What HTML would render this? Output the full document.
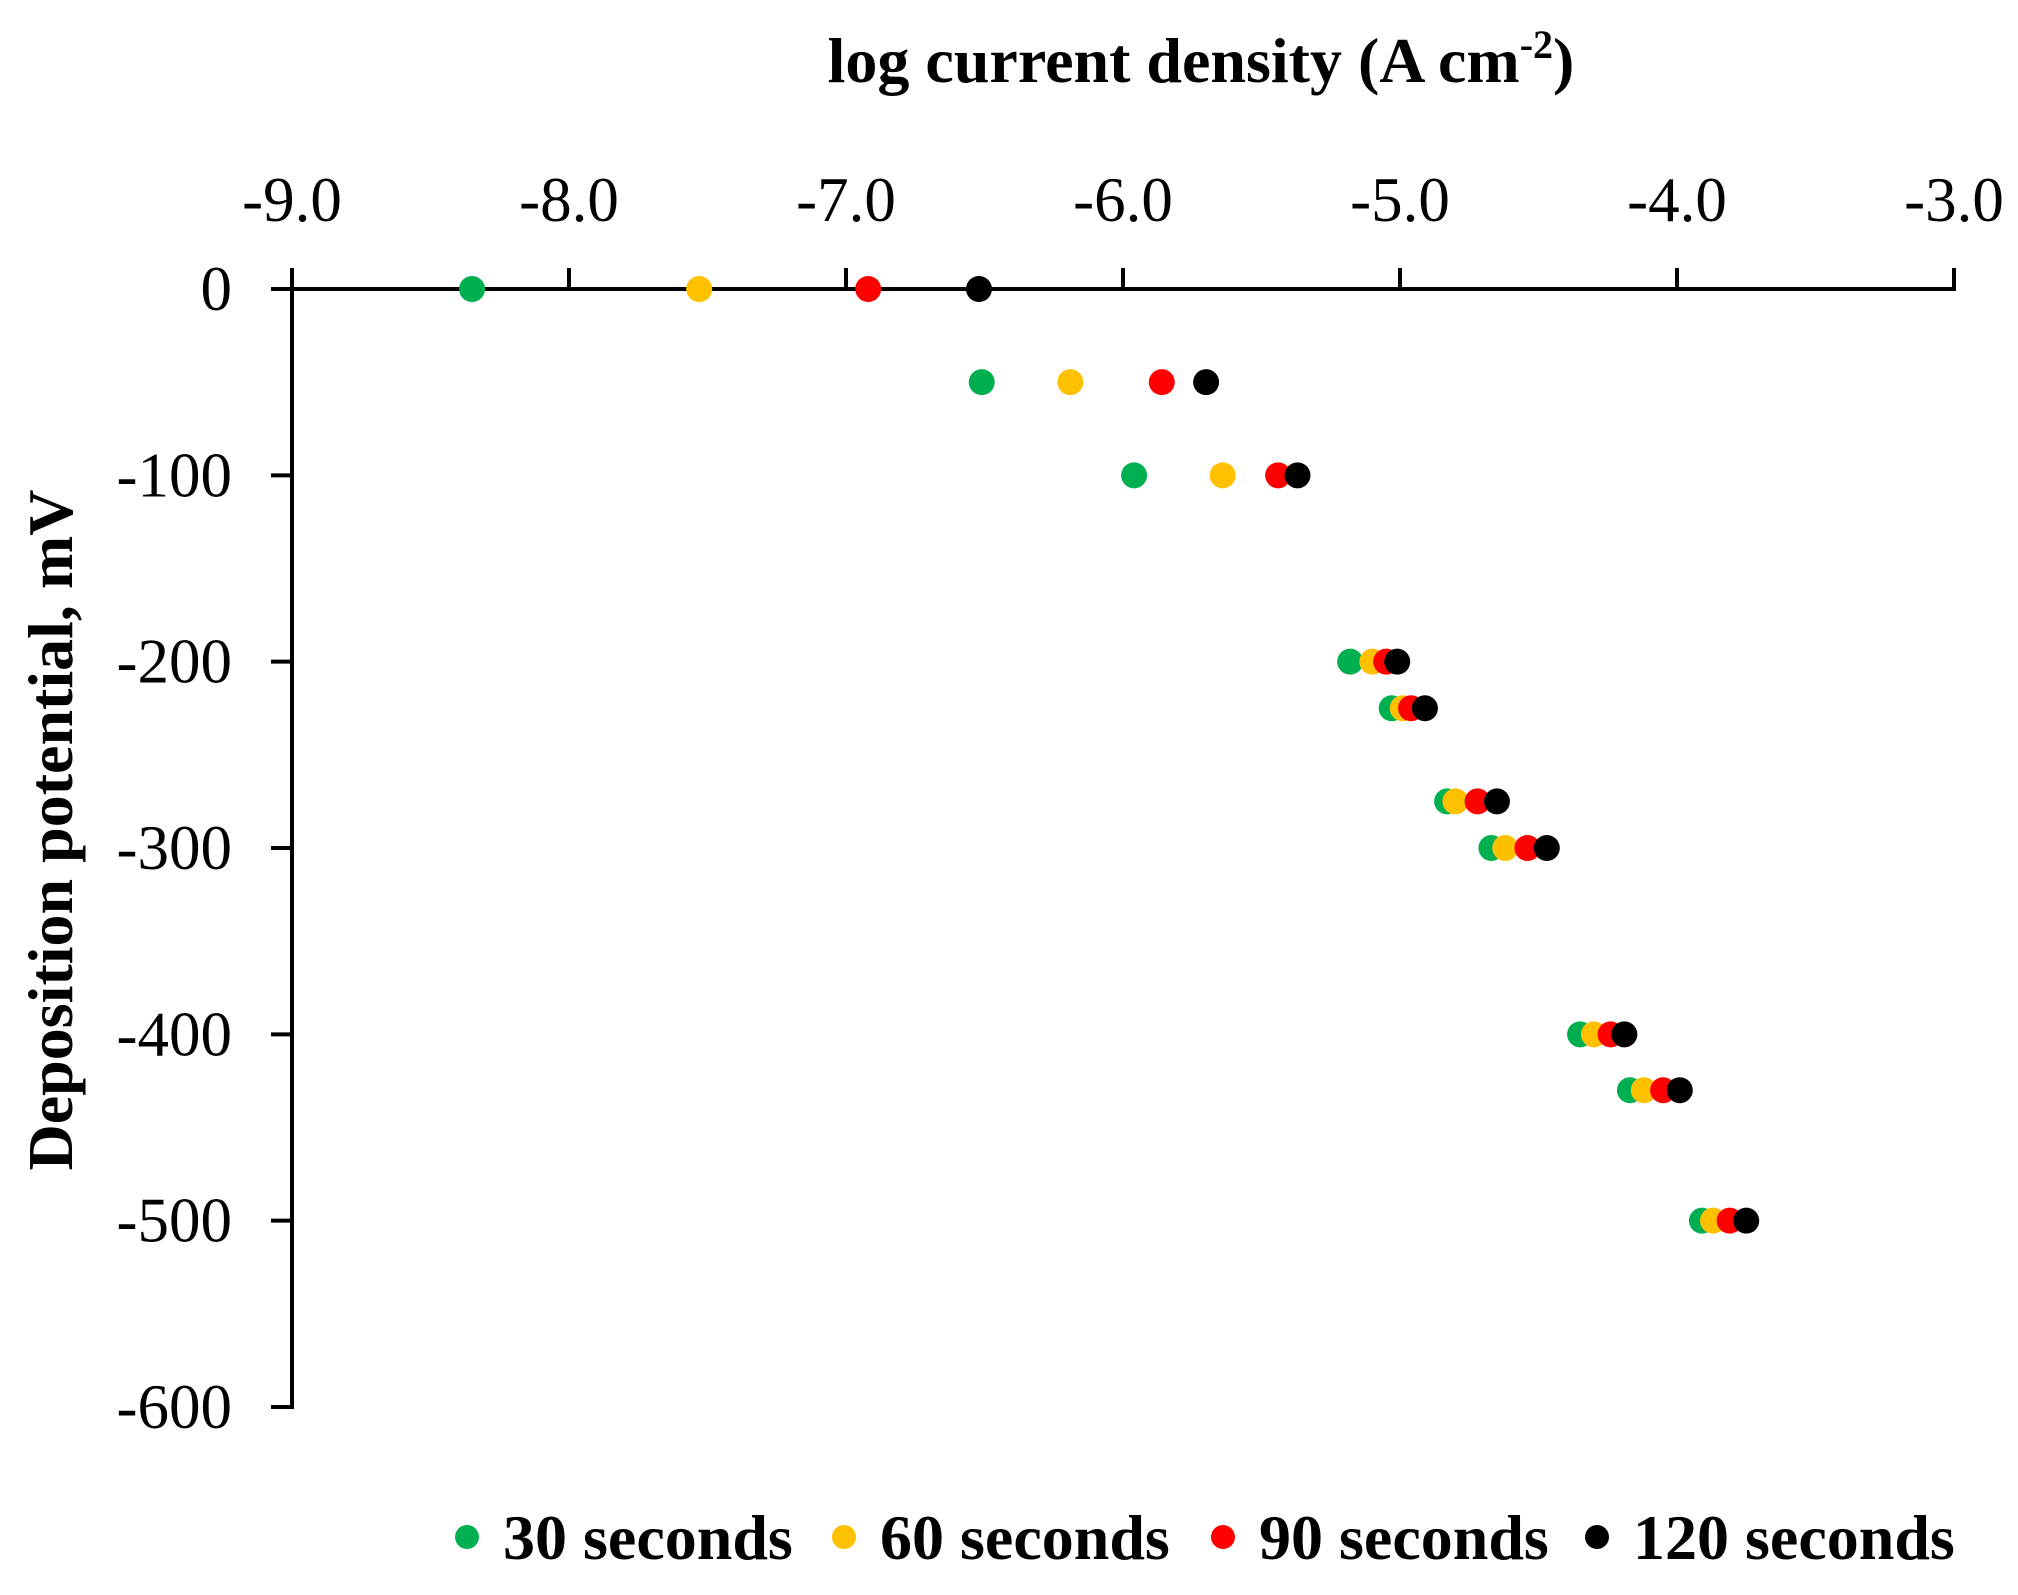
<!DOCTYPE html>
<html><head><meta charset="utf-8"><style>
html,body{margin:0;padding:0;background:#fff;}
svg{display:block;font-family:"Liberation Serif",serif;}
</style></head><body>
<svg id="chart" width="2018" height="1595" viewBox="0 0 2018 1595">
<text x="1201" y="82" font-size="64" font-weight="bold" text-anchor="middle">log current density (A cm<tspan font-size="40" dy="-24">-2</tspan><tspan dy="24">)</tspan></text>
<text transform="translate(72,830) rotate(-90)" font-size="64" font-weight="bold" text-anchor="middle">Deposition potential, mV</text>
<g id="axes"></g>
<g id="marks"></g>
<g id="legend"></g>
</svg>
<script>
const potentials = [0, -50, -100, -200, -225, -275, -300, -400, -430, -500];
const s30 = [-8.35, -6.51, -5.96, -5.18, -5.03, -4.83, -4.67, -4.35, -4.17, -3.91];
const s60 = [-7.53, -6.19, -5.64, -5.10, -4.99, -4.80, -4.62, -4.30, -4.12, -3.87];
const s90 = [-6.92, -5.86, -5.44, -5.05, -4.96, -4.72, -4.54, -4.24, -4.05, -3.81];
const s120 = [-6.52, -5.70, -5.37, -5.01, -4.91, -4.65, -4.47, -4.19, -3.99, -3.75];
const seriesNames = ["30 seconds", "60 seconds", "90 seconds", "120 seconds"];
const seriesColors = ["#00b050", "#ffc000", "#ff0000", "#000000"];
const xTicks = [-9, -8, -7, -6, -5, -4, -3];
const yTicks = [0, -100, -200, -300, -400, -500, -600];

const NS = "http://www.w3.org/2000/svg";
const X0 = 292, X1 = 1954, Y0 = 289, Y1 = 1407;
function xs(v){ return X0 + (v + 9) / 6 * (X1 - X0); }
function ys(v){ return Y0 + (-v) / 600 * (Y1 - Y0); }
function mk(tag, attrs, parent){
  const e = document.createElementNS(NS, tag);
  for (const k in attrs) e.setAttribute(k, attrs[k]);
  parent.appendChild(e); return e;
}
const axes = document.getElementById("axes");
const xl = mk("line", {x1: X0-2, y1: Y0, x2: X1+2, y2: Y0, stroke: "#000", "stroke-width": 4}, axes);


const yl = mk("line", {x1: X0, y1: Y0-21, x2: X0, y2: Y1+2, stroke: "#000", "stroke-width": 4}, axes);


xTicks.forEach(t => {
  const tk = mk("line", {x1: xs(t), y1: Y0-21, x2: xs(t), y2: Y0, stroke: "#000", "stroke-width": 4}, axes);
  
  
  const lb = mk("text", {x: xs(t), y: 221, "font-size": 63, "text-anchor": "middle"}, axes);
  lb.textContent = t.toFixed(1);
  
  
});
yTicks.forEach(t => {
  const tk = mk("line", {x1: X0-21, y1: ys(t), x2: X0, y2: ys(t), stroke: "#000", "stroke-width": 4}, axes);
  
  
  const lb = mk("text", {x: 232, y: ys(t)+21, "font-size": 63, "text-anchor": "end"}, axes);
  lb.textContent = String(t);
  
  
});
const marks = document.getElementById("marks");
[s30, s60, s90, s120].forEach((ser, si) => {
  ser.forEach((v, i) => {
    const c = mk("circle", {cx: xs(v), cy: ys(potentials[i]), r: 13, fill: seriesColors[si]}, marks);
    
    
  });
});
const legend = document.getElementById("legend");
const legX = [467, 844, 1223, 1597];
seriesNames.forEach((n, i) => {
  const c = mk("circle", {cx: legX[i], cy: 1537, r: 12, fill: seriesColors[i]}, legend);
  
  
  const t = mk("text", {x: legX[i] + 36, y: 1559, "font-size": 64, "font-weight": "bold"}, legend);
  t.textContent = n;
  
  
});
</script>
</body></html>
